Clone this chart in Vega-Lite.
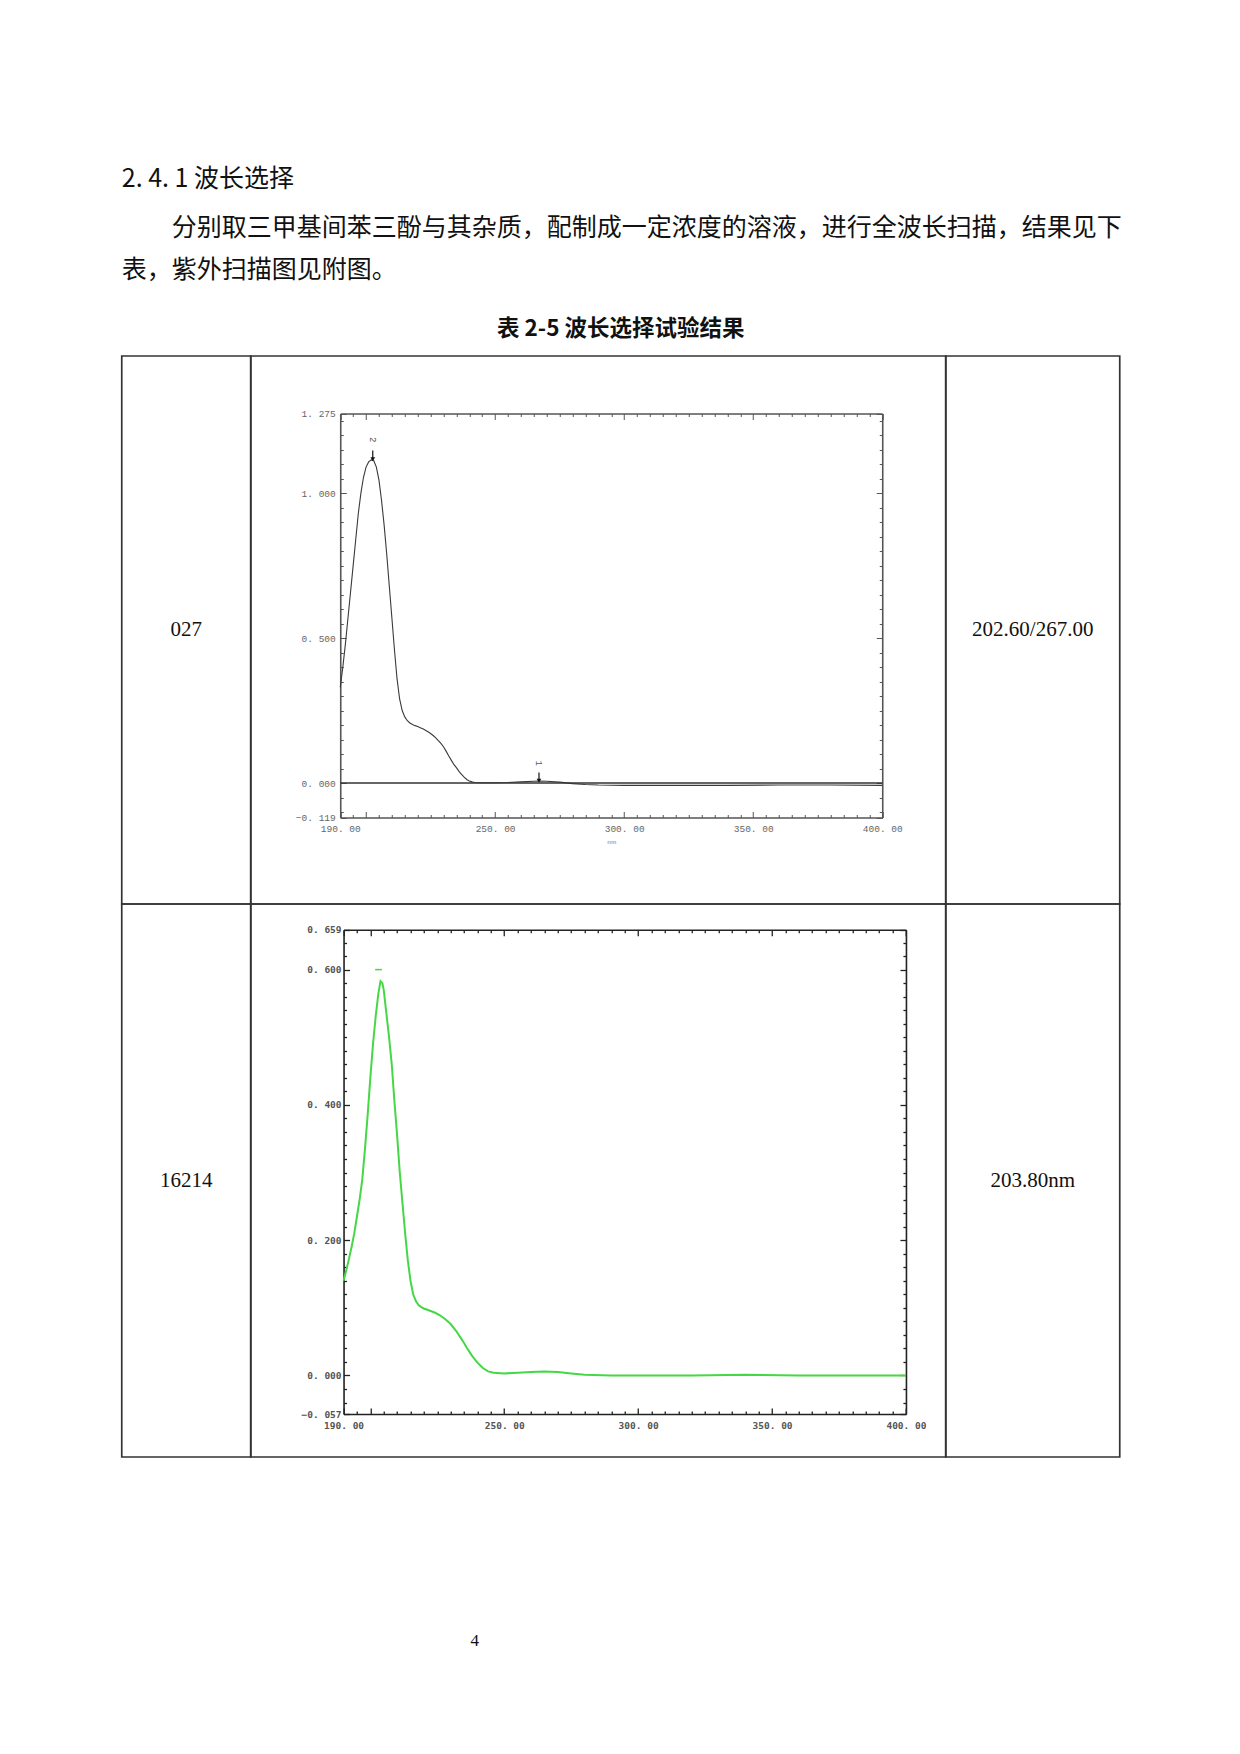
{
  "$schema": "https://vega.github.io/schema/vega-lite/v6.json",
  "background": "white",
  "padding": {"left": 120.75, "top": 166, "right": 100, "bottom": 70},
  "config": {
    "axis": {"grid": false, "labelFlush": false, "labelOverlap": false},
    "view": {"stroke": "#333333", "strokeWidth": 1.7}
  },
  "datasets": {
    "cells": [
      {"cell": "r1c1", "text": "027"},
      {"cell": "r1c3", "text": "202.60/267.00"},
      {"cell": "r2c1", "text": "16214"},
      {"cell": "r2c3", "text": "203.80nm"},
      {"cell": "foot", "text": "4"}
    ],
    "spec027": [
      {"wl": 190, "abs": 0.33}, {"wl": 191, "abs": 0.40}, {"wl": 192, "abs": 0.48}, {"wl": 193, "abs": 0.57},
      {"wl": 194, "abs": 0.66}, {"wl": 195, "abs": 0.75}, {"wl": 196, "abs": 0.84}, {"wl": 197, "abs": 0.93},
      {"wl": 198, "abs": 1.0}, {"wl": 199, "abs": 1.055}, {"wl": 200, "abs": 1.09}, {"wl": 201, "abs": 1.108},
      {"wl": 202, "abs": 1.115}, {"wl": 203, "abs": 1.112}, {"wl": 204, "abs": 1.09}, {"wl": 205, "abs": 1.045},
      {"wl": 206, "abs": 0.975}, {"wl": 207, "abs": 0.89}, {"wl": 208, "abs": 0.79}, {"wl": 209, "abs": 0.68},
      {"wl": 210, "abs": 0.57}, {"wl": 211, "abs": 0.46}, {"wl": 212, "abs": 0.36}, {"wl": 213, "abs": 0.29},
      {"wl": 214, "abs": 0.25}, {"wl": 215, "abs": 0.228}, {"wl": 216, "abs": 0.215}, {"wl": 217, "abs": 0.207},
      {"wl": 218, "abs": 0.202}, {"wl": 219, "abs": 0.198}, {"wl": 220, "abs": 0.195}, {"wl": 221, "abs": 0.191},
      {"wl": 222, "abs": 0.187}, {"wl": 223, "abs": 0.182}, {"wl": 224, "abs": 0.177}, {"wl": 225, "abs": 0.171},
      {"wl": 226, "abs": 0.164}, {"wl": 227, "abs": 0.156}, {"wl": 228, "abs": 0.146}, {"wl": 229, "abs": 0.137},
      {"wl": 230, "abs": 0.125}, {"wl": 231, "abs": 0.11}, {"wl": 232, "abs": 0.094}, {"wl": 233, "abs": 0.079},
      {"wl": 234, "abs": 0.064}, {"wl": 235, "abs": 0.053}, {"wl": 236, "abs": 0.04}, {"wl": 237, "abs": 0.03},
      {"wl": 238, "abs": 0.02}, {"wl": 239, "abs": 0.012}, {"wl": 240, "abs": 0.007}, {"wl": 241, "abs": 0.004},
      {"wl": 242, "abs": 0.002}, {"wl": 245, "abs": 0.001}, {"wl": 250, "abs": 0.001}, {"wl": 255, "abs": 0.002},
      {"wl": 260, "abs": 0.004}, {"wl": 265, "abs": 0.006}, {"wl": 267, "abs": 0.007}, {"wl": 270, "abs": 0.006},
      {"wl": 275, "abs": 0.003}, {"wl": 280, "abs": -0.002}, {"wl": 285, "abs": -0.005}, {"wl": 290, "abs": -0.007},
      {"wl": 300, "abs": -0.008}, {"wl": 320, "abs": -0.008}, {"wl": 340, "abs": -0.008}, {"wl": 360, "abs": -0.007},
      {"wl": 380, "abs": -0.007}, {"wl": 400, "abs": -0.008}
    ],
    "markers027": [
      {"wl": 202.6, "tip": 1.117, "tail": 1.147, "lab": 1.185, "label": "2"},
      {"wl": 267.0, "tip": 0.008, "tail": 0.036, "lab": 0.068, "label": "1"}
    ],
    "spec16214": [
      {"wl": 190, "abs": 0.14}, {"wl": 191, "abs": 0.155}, {"wl": 192, "abs": 0.172}, {"wl": 193, "abs": 0.19},
      {"wl": 194, "abs": 0.21}, {"wl": 195, "abs": 0.235}, {"wl": 196, "abs": 0.26}, {"wl": 197, "abs": 0.29},
      {"wl": 198, "abs": 0.335}, {"wl": 199, "abs": 0.385}, {"wl": 200, "abs": 0.44}, {"wl": 201, "abs": 0.49},
      {"wl": 202, "abs": 0.531}, {"wl": 203, "abs": 0.565}, {"wl": 203.8, "abs": 0.583}, {"wl": 204.5, "abs": 0.58},
      {"wl": 205, "abs": 0.57}, {"wl": 206, "abs": 0.535}, {"wl": 207, "abs": 0.5}, {"wl": 208, "abs": 0.46},
      {"wl": 209, "abs": 0.405}, {"wl": 210, "abs": 0.355}, {"wl": 211, "abs": 0.3}, {"wl": 212, "abs": 0.255},
      {"wl": 213, "abs": 0.21}, {"wl": 214, "abs": 0.17}, {"wl": 215, "abs": 0.14}, {"wl": 216, "abs": 0.12},
      {"wl": 217, "abs": 0.11}, {"wl": 218, "abs": 0.104}, {"wl": 219, "abs": 0.101}, {"wl": 220, "abs": 0.099},
      {"wl": 222, "abs": 0.096}, {"wl": 224, "abs": 0.093}, {"wl": 226, "abs": 0.089}, {"wl": 228, "abs": 0.083},
      {"wl": 230, "abs": 0.076}, {"wl": 232, "abs": 0.066}, {"wl": 234, "abs": 0.054}, {"wl": 235, "abs": 0.048},
      {"wl": 236, "abs": 0.041}, {"wl": 238, "abs": 0.029}, {"wl": 240, "abs": 0.019}, {"wl": 242, "abs": 0.011},
      {"wl": 244, "abs": 0.006}, {"wl": 246, "abs": 0.004}, {"wl": 250, "abs": 0.003}, {"wl": 255, "abs": 0.004},
      {"wl": 260, "abs": 0.005}, {"wl": 265, "abs": 0.006}, {"wl": 270, "abs": 0.005}, {"wl": 275, "abs": 0.003},
      {"wl": 280, "abs": 0.001}, {"wl": 290, "abs": 0.0}, {"wl": 300, "abs": 0.0}, {"wl": 320, "abs": 0.0},
      {"wl": 340, "abs": 0.001}, {"wl": 360, "abs": 0.0}, {"wl": 380, "abs": 0.0}, {"wl": 400, "abs": 0.0}
    ],
    "marker16214": [
      {"wl1": 201.8, "wl2": 204.3, "level": 0.6}
    ]
  },
  "title": {
    "text": "2. 4. 1 波长选择",
    "subtitle": ["\u200b　　分别取三甲基间苯三酚与其杂质，配制成一定浓度的溶液，进行全波长扫描，结果见下", "表，紫外扫描图见附图。"],
    "anchor": "start",
    "frame": "group",
    "font": "Noto Sans CJK SC",
    "fontSize": 25,
    "fontWeight": "normal",
    "color": "#111111",
    "subtitleFont": "Noto Sans CJK SC",
    "subtitleFontSize": 25,
    "subtitleColor": "#111111",
    "subtitleLineHeight": 42,
    "subtitlePadding": 24,
    "offset": 35
  },
  "spacing": 172.6,
  "vconcat": [
    {
      "title": {
        "text": "表 2-5 波长选择试验结果",
        "anchor": "middle",
        "frame": "bounds",
        "font": "Noto Sans CJK SC",
        "fontSize": 22.5,
        "fontWeight": "bold",
        "color": "#111111",
        "offset": 15
      },
      "columns": 3,
      "spacing": 0,
      "bounds": "flush",
      "concat": [
        {
          "width": 129, "height": 548,
          "view": {"style": "cell", "stroke": "#333333", "strokeWidth": 1.7},
          "data": {"name": "cells"},
          "transform": [{"filter": "datum.cell === 'r1c1'"}],
          "mark": {"type": "text", "font": "Liberation Serif", "fontSize": 21, "color": "#111111"},
          "encoding": {"text": {"field": "text", "type": "nominal"}}
        },
        {
          "width": 695, "height": 548,
          "resolve": {"axis": {"x": "independent", "y": "independent"}},
          "layer": [
            {
              "data": {"name": "spec027"},
              "mark": {"type": "line", "color": "#3a3a3a", "strokeWidth": 1.1},
              "encoding": {
                "x": {
                  "field": "wl", "type": "quantitative",
                  "scale": {"domain": [190, 400], "range": [89.5, 631.5], "nice": false, "zero": false},
                  "axis": {
                    "orient": "bottom", "offset": -86.5, "title": "nm", "titleFontSize": 6, "titleColor": "#aaaaaa", "titlePadding": 2,
                    "values": [190,195,200,205,210,215,220,225,230,235,240,245,250,255,260,265,270,275,280,285,290,295,300,305,310,315,320,325,330,335,340,345,350,355,360,365,370,375,380,385,390,395,400],
                    "labelExpr": "indexof([190,250,300,350,400], datum.value) >= 0 ? replace(format(datum.value, '.2f'), '.', '. ') : ''",
                    "tickSize": {"condition": {"test": "datum.value % 50 === 0 || datum.value === 190", "value": -6}, "value": -3},
                    "tickColor": "#555555", "tickWidth": 1, "domainColor": "#555555", "domainWidth": 1.6,
                    "labelFont": "Liberation Mono", "labelFontSize": 9.5, "labelColor": "#666666", "labelPadding": 12
                  }
                },
                "y": {
                  "field": "abs", "type": "quantitative",
                  "scale": {"domain": [-0.119, 1.275], "range": [461.5, 57.5], "nice": false, "zero": false},
                  "axis": {
                    "orient": "left", "offset": -89.5, "title": null,
                    "values": [-0.119,-0.1,-0.05,0,0.05,0.1,0.15,0.2,0.25,0.3,0.35,0.4,0.45,0.5,0.55,0.6,0.65,0.7,0.75,0.8,0.85,0.9,0.95,1,1.05,1.1,1.15,1.2,1.25,1.275],
                    "labelExpr": "indexof([-0.119,0,0.5,1,1.275], datum.value) >= 0 ? replace(format(datum.value, '.3f'), '.', '. ') : ''",
                    "tickSize": {"condition": {"test": "indexof([-0.119,0,0.5,1,1.275], datum.value) >= 0", "value": -6}, "value": -3},
                    "tickColor": "#555555", "tickWidth": 1, "domainColor": "#555555", "domainWidth": 1.6,
                    "labelFont": "Liberation Mono", "labelFontSize": 9.5, "labelColor": "#666666", "labelPadding": 11
                  }
                }
              }
            },
            {
              "data": {"values": [{}]},
              "mark": {"type": "rule", "color": "#333333", "strokeWidth": 1.3},
              "encoding": {
                "x": {
                  "datum": 190, "type": "quantitative",
                  "axis": {
                    "orient": "top", "offset": -57.5, "title": null, "labels": false,
                    "values": [190,195,200,205,210,215,220,225,230,235,240,245,250,255,260,265,270,275,280,285,290,295,300,305,310,315,320,325,330,335,340,345,350,355,360,365,370,375,380,385,390,395,400],
                    "tickSize": {"condition": {"test": "datum.value % 50 === 0 || datum.value === 190", "value": -6}, "value": -3},
                    "tickColor": "#555555", "tickWidth": 1, "domainColor": "#555555", "domainWidth": 1.6
                  }
                },
                "x2": {"datum": 400},
                "y": {
                  "datum": 0, "type": "quantitative",
                  "axis": {
                    "orient": "right", "offset": -63.5, "title": null, "labels": false,
                    "values": [-0.119,-0.1,-0.05,0,0.05,0.1,0.15,0.2,0.25,0.3,0.35,0.4,0.45,0.5,0.55,0.6,0.65,0.7,0.75,0.8,0.85,0.9,0.95,1,1.05,1.1,1.15,1.2,1.25,1.275],
                    "tickSize": {"condition": {"test": "indexof([-0.119,0,0.5,1,1.275], datum.value) >= 0", "value": -6}, "value": -3},
                    "tickColor": "#555555", "tickWidth": 1, "domainColor": "#555555", "domainWidth": 1.6
                  }
                }
              }
            },
            {
              "data": {"name": "markers027"},
              "mark": {"type": "rule", "color": "#111111", "strokeWidth": 1.2},
              "encoding": {
                "x": {"field": "wl", "type": "quantitative", "axis": null},
                "y": {"field": "tail", "type": "quantitative", "axis": null},
                "y2": {"field": "tip"}
              }
            },
            {
              "data": {"name": "markers027"},
              "mark": {"type": "point", "shape": "triangle-down", "filled": true, "color": "#111111", "size": 22, "opacity": 1},
              "encoding": {
                "x": {"field": "wl", "type": "quantitative", "axis": null},
                "y": {"field": "tip", "type": "quantitative", "axis": null}
              }
            },
            {
              "data": {"name": "markers027"},
              "mark": {"type": "text", "angle": 90, "font": "Liberation Mono", "fontSize": 9, "color": "#555555"},
              "encoding": {
                "x": {"field": "wl", "type": "quantitative", "axis": null},
                "y": {"field": "lab", "type": "quantitative", "axis": null},
                "text": {"field": "label", "type": "nominal"}
              }
            }
          ]
        },
        {
          "width": 174, "height": 548,
          "view": {"style": "cell", "stroke": "#333333", "strokeWidth": 1.7},
          "data": {"name": "cells"},
          "transform": [{"filter": "datum.cell === 'r1c3'"}],
          "mark": {"type": "text", "font": "Liberation Serif", "fontSize": 21, "color": "#111111"},
          "encoding": {"text": {"field": "text", "type": "nominal"}}
        },
        {
          "width": 129, "height": 553,
          "view": {"style": "cell", "stroke": "#333333", "strokeWidth": 1.7},
          "data": {"name": "cells"},
          "transform": [{"filter": "datum.cell === 'r2c1'"}],
          "mark": {"type": "text", "font": "Liberation Serif", "fontSize": 21, "color": "#111111"},
          "encoding": {"text": {"field": "text", "type": "nominal"}}
        },
        {
          "width": 695, "height": 553,
          "resolve": {"axis": {"x": "independent", "y": "independent"}},
          "layer": [
            {
              "data": {"name": "spec16214"},
              "mark": {"type": "line", "color": "#45d845", "strokeWidth": 2},
              "encoding": {
                "x": {
                  "field": "wl", "type": "quantitative",
                  "scale": {"domain": [190, 400], "range": [92.8, 655.2], "nice": false, "zero": false},
                  "axis": {
                    "orient": "bottom", "offset": -43, "title": null,
                    "values": [190,195,200,205,210,215,220,225,230,235,240,245,250,255,260,265,270,275,280,285,290,295,300,305,310,315,320,325,330,335,340,345,350,355,360,365,370,375,380,385,390,395,400],
                    "labelExpr": "indexof([190,250,300,350,400], datum.value) >= 0 ? replace(format(datum.value, '.2f'), '.', '. ') : ''",
                    "tickSize": {"condition": {"test": "datum.value % 50 === 0 || datum.value === 190", "value": -6}, "value": -3},
                    "tickColor": "#222222", "tickWidth": 1.3, "domainColor": "#222222", "domainWidth": 1.6,
                    "labelFont": "DejaVu Sans Mono", "labelFontWeight": "bold", "labelFontSize": 9.5, "labelColor": "#555555", "labelPadding": 12.5
                  }
                },
                "y": {
                  "field": "abs", "type": "quantitative",
                  "scale": {"domain": [-0.057, 0.659], "range": [510, 25.7], "nice": false, "zero": false},
                  "axis": {
                    "orient": "left", "offset": -92.8, "title": null,
                    "values": [-0.057,-0.04,-0.02,0,0.02,0.04,0.06,0.08,0.1,0.12,0.14,0.16,0.18,0.2,0.22,0.24,0.26,0.28,0.3,0.32,0.34,0.36,0.38,0.4,0.42,0.44,0.46,0.48,0.5,0.52,0.54,0.56,0.58,0.6,0.62,0.64,0.659],
                    "labelExpr": "indexof([-0.057,0,0.2,0.4,0.6,0.659], datum.value) >= 0 ? replace(format(datum.value, '.3f'), '.', '. ') : ''",
                    "tickSize": {"condition": {"test": "indexof([-0.057,0,0.2,0.4,0.6,0.659], datum.value) >= 0", "value": -6}, "value": -3},
                    "tickColor": "#222222", "tickWidth": 1.3, "domainColor": "#222222", "domainWidth": 1.6,
                    "labelFont": "DejaVu Sans Mono", "labelFontWeight": "bold", "labelFontSize": 9.5, "labelColor": "#555555", "labelPadding": 8.5
                  }
                }
              }
            },
            {
              "data": {"name": "marker16214"},
              "mark": {"type": "rule", "color": "#45d845", "strokeWidth": 1.5},
              "encoding": {
                "x": {
                  "field": "wl1", "type": "quantitative",
                  "axis": {
                    "orient": "top", "offset": -25.7, "title": null, "labels": false,
                    "values": [190,195,200,205,210,215,220,225,230,235,240,245,250,255,260,265,270,275,280,285,290,295,300,305,310,315,320,325,330,335,340,345,350,355,360,365,370,375,380,385,390,395,400],
                    "tickSize": {"condition": {"test": "datum.value % 50 === 0 || datum.value === 190", "value": -6}, "value": -3},
                    "tickColor": "#222222", "tickWidth": 1.3, "domainColor": "#222222", "domainWidth": 1.6
                  }
                },
                "x2": {"field": "wl2"},
                "y": {
                  "field": "level", "type": "quantitative",
                  "axis": {
                    "orient": "right", "offset": -39.8, "title": null, "labels": false,
                    "values": [-0.057,-0.04,-0.02,0,0.02,0.04,0.06,0.08,0.1,0.12,0.14,0.16,0.18,0.2,0.22,0.24,0.26,0.28,0.3,0.32,0.34,0.36,0.38,0.4,0.42,0.44,0.46,0.48,0.5,0.52,0.54,0.56,0.58,0.6,0.62,0.64,0.659],
                    "tickSize": {"condition": {"test": "indexof([-0.057,0,0.2,0.4,0.6,0.659], datum.value) >= 0", "value": -6}, "value": -3},
                    "tickColor": "#222222", "tickWidth": 1.3, "domainColor": "#222222", "domainWidth": 1.6
                  }
                }
              }
            }
          ]
        },
        {
          "width": 174, "height": 553,
          "view": {"style": "cell", "stroke": "#333333", "strokeWidth": 1.7},
          "data": {"name": "cells"},
          "transform": [{"filter": "datum.cell === 'r2c3'"}],
          "mark": {"type": "text", "font": "Liberation Serif", "fontSize": 21, "color": "#111111"},
          "encoding": {"text": {"field": "text", "type": "nominal"}}
        }
      ]
    },
    {
      "width": 706, "height": 20,
      "view": {"stroke": null},
      "data": {"name": "cells"},
      "transform": [{"filter": "datum.cell === 'foot'"}],
      "mark": {"type": "text", "font": "Liberation Serif", "fontSize": 17, "color": "#111111"},
      "encoding": {"text": {"field": "text", "type": "nominal"}}
    }
  ]
}
